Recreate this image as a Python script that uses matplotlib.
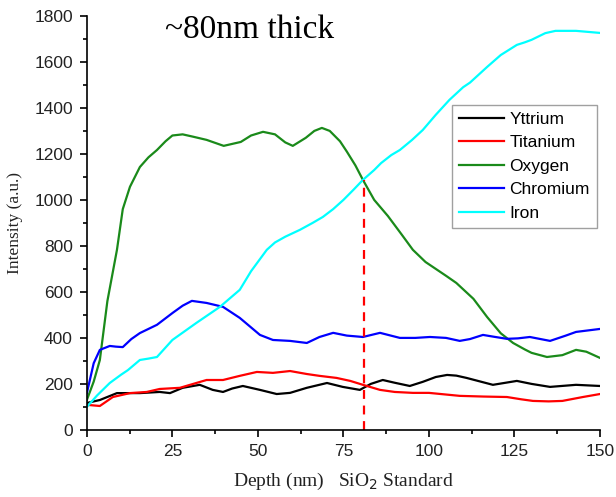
import matplotlib
matplotlib.use("Agg")
import matplotlib.pyplot as plt

# depth (nm) / intensity (a.u.)
oxygen_x = [0, 2, 3.8, 6, 8.8, 10.5, 12.6, 15.5, 18, 20.5, 23, 25, 28, 31, 35, 40, 45, 48, 51.5, 55, 58, 60.2, 64, 66.5, 68.7, 71, 74, 76, 78.5, 80.7, 84, 88, 92, 95.3, 99, 102, 105, 108, 113, 117, 121, 124.6, 128, 130, 134.5, 139, 143, 146, 150]
oxygen_y = [130, 210, 304, 560, 783, 960, 1057, 1143, 1185, 1217, 1255, 1280, 1285, 1275, 1261, 1235, 1252, 1280, 1296, 1285, 1250, 1235, 1270, 1300, 1313, 1300, 1255, 1210, 1150, 1087, 1000, 930, 850, 783, 730, 700, 670, 639, 570, 491, 420, 378, 350, 335, 317, 325, 348, 340, 313]

iron_x = [0, 3, 6.7, 10, 12, 15.5, 18, 20.5, 25, 32, 38.9, 44.7, 48, 52.6, 55, 58, 62.3, 66, 69, 72, 75, 78, 80.7, 84, 86, 89, 91.5, 95, 98.2, 102, 106, 110, 112, 117, 121, 125.7, 128, 130, 134, 137, 143, 150]
iron_y = [100, 150, 204, 240, 260, 304, 310, 317, 391, 465, 535, 609, 690, 783, 815, 840, 870, 900, 926, 960, 1000, 1045, 1087, 1130, 1160, 1195, 1217, 1260, 1304, 1370, 1435, 1490, 1510, 1578, 1630, 1674, 1685, 1696, 1725, 1735, 1735, 1726]

chromium_x = [0, 2, 3.8, 6.7, 8.5, 10.5, 13, 15.5, 20.5, 25.1, 28, 30.7, 35, 39.8, 44.7, 50.6, 54.4, 59.4, 64.3, 68, 72, 76, 80.7, 85.7, 91.5, 96, 100.3, 105, 109, 112, 115.8, 119, 122.8, 126, 129.5, 135.4, 140, 143, 150]
chromium_y = [160, 290, 348, 365, 362, 360, 395, 421, 457, 509, 540, 561, 552, 535, 487, 413, 391, 387, 378, 404, 422, 410, 404, 422, 400, 400, 404, 400, 387, 395, 413, 405, 396, 398, 404, 387, 410, 426, 439]

titanium_x = [0, 3.8, 7.6, 12.6, 17.5, 21.3, 27.2, 32, 35, 39.8, 44.7, 49.7, 54.4, 59.4, 64.3, 68, 73, 77, 80.7, 85.7, 90, 95.3, 100, 109, 116, 122.8, 127, 130.4, 135, 139, 145, 150]
titanium_y = [109, 104, 143, 160, 165, 178, 183, 204, 217, 217, 235, 252, 248, 256, 243, 235, 226, 213, 196, 174, 165, 161, 161, 148, 145, 143, 133, 126, 124, 126, 143, 156]

yttrium_x = [0, 3.8, 8.8, 15.5, 21.3, 24.3, 28, 33, 36.8, 39.8, 42.5, 45.6, 50.6, 55.5, 59.4, 64.3, 70.2, 74.8, 79.8, 83, 86.5, 90, 94.4, 98.2, 102, 105.3, 108, 111, 118.7, 125.7, 130, 135.4, 143, 150]
yttrium_y = [117, 130, 160, 160, 165, 160, 183, 196, 174, 165, 180, 191, 174, 156, 161, 183, 204, 187, 174, 200, 217, 205, 191, 209, 230, 239, 236, 226, 196, 213, 200, 187, 196, 191]

marker_depth = 81
marker_top = 1087

fig = plt.figure(figsize=(6.16, 4.97), dpi=100)
ax = fig.add_axes([0.141, 0.135, 0.833, 0.833])

ax.plot(yttrium_x, yttrium_y, color="black", lw=1.6, label="Yttrium")
ax.plot(titanium_x, titanium_y, color="red", lw=1.6, label="Titanium")
ax.plot(oxygen_x, oxygen_y, color="#1a8a1a", lw=1.6, label="Oxygen")
ax.plot(chromium_x, chromium_y, color="blue", lw=1.6, label="Chromium")
ax.plot(iron_x, iron_y, color="cyan", lw=1.6, label="Iron")
ax.plot([marker_depth, marker_depth], [0, marker_top], color="red", lw=1.6, ls=(0, (4, 3)))

ax.set_xlim(0, 150)
ax.set_ylim(0, 1800)
ax.set_xticks([0, 25, 50, 75, 100, 125, 150])
ax.set_xticks([12.5, 37.5, 62.5, 87.5, 112.5, 137.5], minor=True)
ax.set_yticks(range(0, 1801, 200))
ax.set_yticks(range(100, 1800, 200), minor=True)
ax.spines["top"].set_visible(False)
ax.spines["right"].set_visible(False)
ax.spines["left"].set_linewidth(1.2)
ax.spines["bottom"].set_linewidth(1.2)
ax.tick_params(which="major", length=5, width=1.2, labelsize=12.5, pad=5, direction="out")
ax.tick_params(which="minor", length=3, width=1.2, direction="out")
for lab in ax.get_xticklabels() + ax.get_yticklabels():
    lab.set_family("Liberation Sans")
    lab.set_color("#222222")

ax.set_xlabel("Depth (nm)   SiO$_2$ Standard", family="Liberation Serif", fontsize=14, labelpad=9, color="#222222")
ax.set_ylabel("Intensity (a.u.)", family="Liberation Serif", fontsize=12.5, labelpad=8, color="#222222")

fig.text(0.268, 0.923, "~80nm thick", family="Liberation Serif", fontsize=24)

leg = ax.legend(loc="upper left", bbox_to_anchor=(0.712, 0.785), fancybox=False,
                prop={"family": "Liberation Sans", "size": 12.5}, handlelength=2.6,
                borderpad=0.4, labelspacing=0.48, handletextpad=0.3, borderaxespad=0)
leg.get_frame().set_edgecolor("#888888")
leg.get_frame().set_linewidth(1.0)

fig.savefig("out.png", dpi=100)
